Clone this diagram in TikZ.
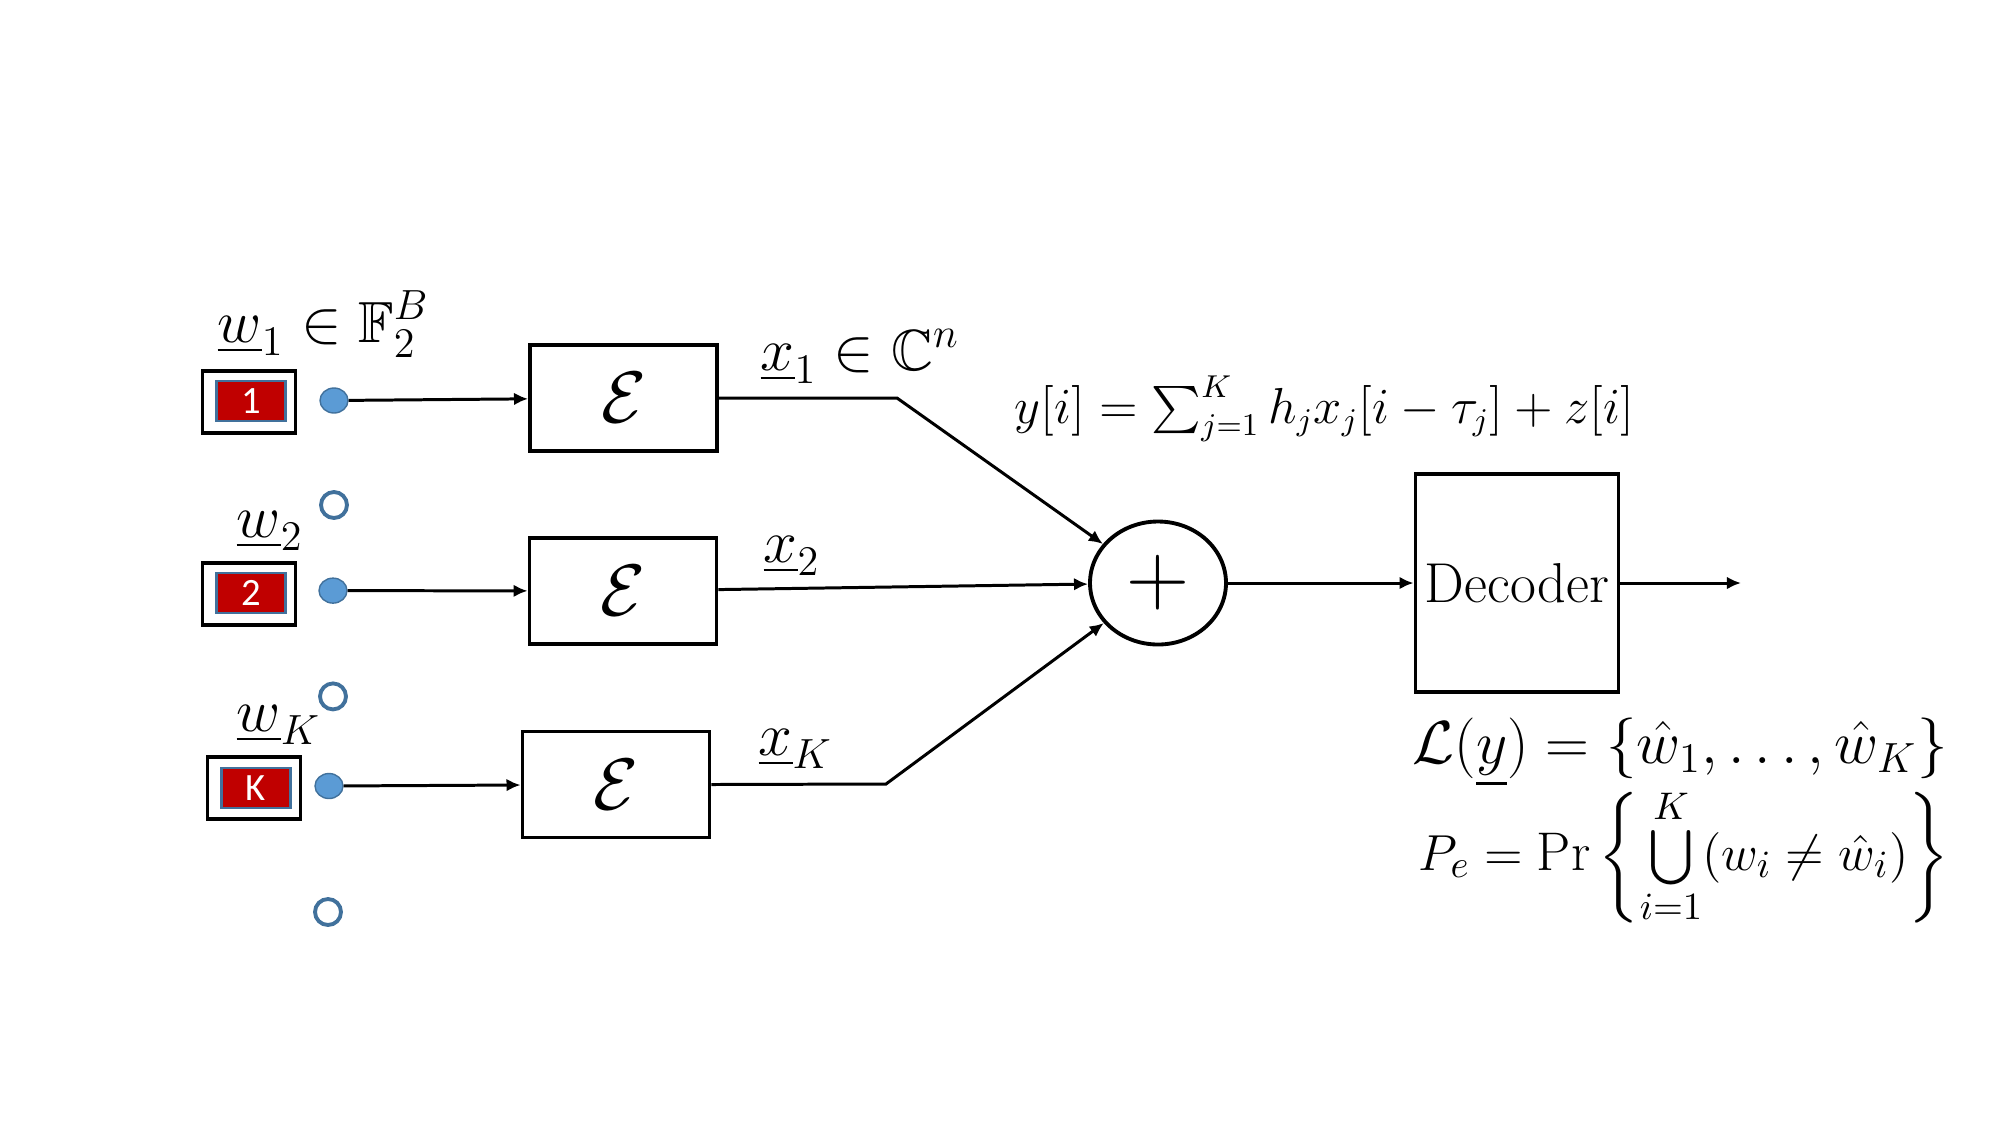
\documentclass[tikz,border=0pt]{standalone}
\usepackage{amsmath, amssymb}
\usepackage{fontspec}
\newfontfamily\tagfont{Carlito}
\usetikzlibrary{arrows.meta, positioning, shapes.geometric}

\definecolor{msgred}{HTML}{C00000}
\definecolor{dotblue}{HTML}{5B9BD5}
\definecolor{rimblue}{HTML}{41719C}

\begin{document}
\begin{tikzpicture}[
    encoder/.style={rectangle, draw, line width=1.1pt, minimum width=1.87cm, minimum height=1.06cm, font=\huge},
    msgbox/.style={rectangle, draw, line width=1.1pt, minimum width=0.93cm, minimum height=0.62cm},
    msgtag/.style={rectangle, draw=rimblue, fill=msgred, line width=0.6pt, minimum width=0.69cm, minimum height=0.4cm, inner sep=0pt, text=white, font=\tagfont\fontsize{11}{12}\selectfont},
    active/.style={ellipse, draw=rimblue, fill=dotblue, line width=0.4pt, minimum width=0.28cm, minimum height=0.25cm, inner sep=0pt},
    idle/.style={circle, draw=rimblue, line width=1.1pt, minimum size=0.26cm, inner sep=0pt},
    sig/.style={anchor=base west, inner sep=0pt, font=\fontsize{16.5}{20}\selectfont},
    link/.style={line width=0.85pt, -{Latex[length=4pt, width=3.6pt]}}
]
    \useasboundingbox (0,0) rectangle (20,-11.25);

    % messages
    \node[msgbox] (m1) at (2.49,-4.02) {};
    \node[msgtag] (t1) at (2.51,-4.01) {1};
    \node[msgbox] (m2) at (2.49,-5.94) {};
    \node[msgtag] (t2) at (2.51,-5.93) {2};
    \node[msgbox] (mK) at (2.54,-7.88) {};
    \node[msgtag] (tK) at (2.56,-7.88) {K};

    % users
    \node[active] (d1) at (3.34,-4.005) {};
    \node[idle] (r1) at (3.34,-5.05) {};
    \node[active] (d2) at (3.33,-5.906) {};
    \node[idle] (r2) at (3.33,-6.964) {};
    \node[active] (dK) at (3.29,-7.86) {};
    \node[idle] (r3) at (3.28,-9.12) {};

    % encoders, channel, decoder
    \node[encoder] (E1) at (6.235,-3.98) {$\mathcal{E}$};
    \node[encoder] (E2) at (6.23,-5.91) {$\mathcal{E}$};
    \node[encoder] (EK) at (6.16,-7.845) {$\mathcal{E}$};
    \node[ellipse, draw, line width=1.1pt, minimum width=1.36cm, minimum height=1.23cm, inner sep=0pt] (add) at (11.58,-5.83) {\fontsize{30}{32}\selectfont$+$};
    \node[rectangle, draw, line width=1.1pt, minimum width=2.03cm, minimum height=2.18cm, inner sep=1pt, font=\fontsize{16}{19}\selectfont] (dec) at (15.17,-5.83) {Decoder};
    \coordinate (b1) at (8.97,-3.98);
    \coordinate (bK) at (8.86,-7.84);
    \coordinate (out) at (17.41,-5.83);

    \draw[link] (d1) -- (E1);
    \draw[link] (d2) -- (E2);
    \draw[link] (dK) -- (EK);
    \draw[link] (E1.east) -- (b1) -- (add);
    \draw[link] (E2) -- (add);
    \draw[link] (EK.east) -- (bK) -- (add);
    \draw[link] (add) -- (dec);
    \draw[link] (dec) -- (out);

    % labels
    \node[sig] (lw1) at (2.17,-3.42) {$\underline{w}_1 \in \mathbb{F}_2^B$};
    \node[sig] (lw2) at (2.36,-5.37) {$\underline{w}_2$};
    \node[sig] (lwK) at (2.36,-7.31) {$\underline{w}_K$};
    \node[sig] (lx1) at (7.6,-3.70) {$\underline{x}_1 \in \mathbb{C}^n$};
    \node[sig] (lx2) at (7.63,-5.62) {$\underline{x}_2$};
    \node[sig] (lxK) at (7.58,-7.55) {$\underline{x}_K$};
    \node[sig, font=\fontsize{13.4}{16}\selectfont] (lrx) at (10.14,-4.23) {$y[i] = \sum_{j=1}^{K} h_j x_j[i-\tau_j] + z[i]$};
    \node[sig, font=\fontsize{17.9}{21}\selectfont] (llist) at (14.12,-7.63) {$\mathcal{L}(\underline{y}) = \{\hat{w}_1, \ldots, \hat{w}_K\}$};
    \node[anchor=west, inner sep=0pt, font=\fontsize{15.5}{18}\selectfont] (lpe) at (14.18,-8.56) {$P_e = \Pr\left\{\bigcup\limits_{i=1}^{K} (w_i \neq \hat{w}_i)\right\}$};
\end{tikzpicture}
\end{document}
